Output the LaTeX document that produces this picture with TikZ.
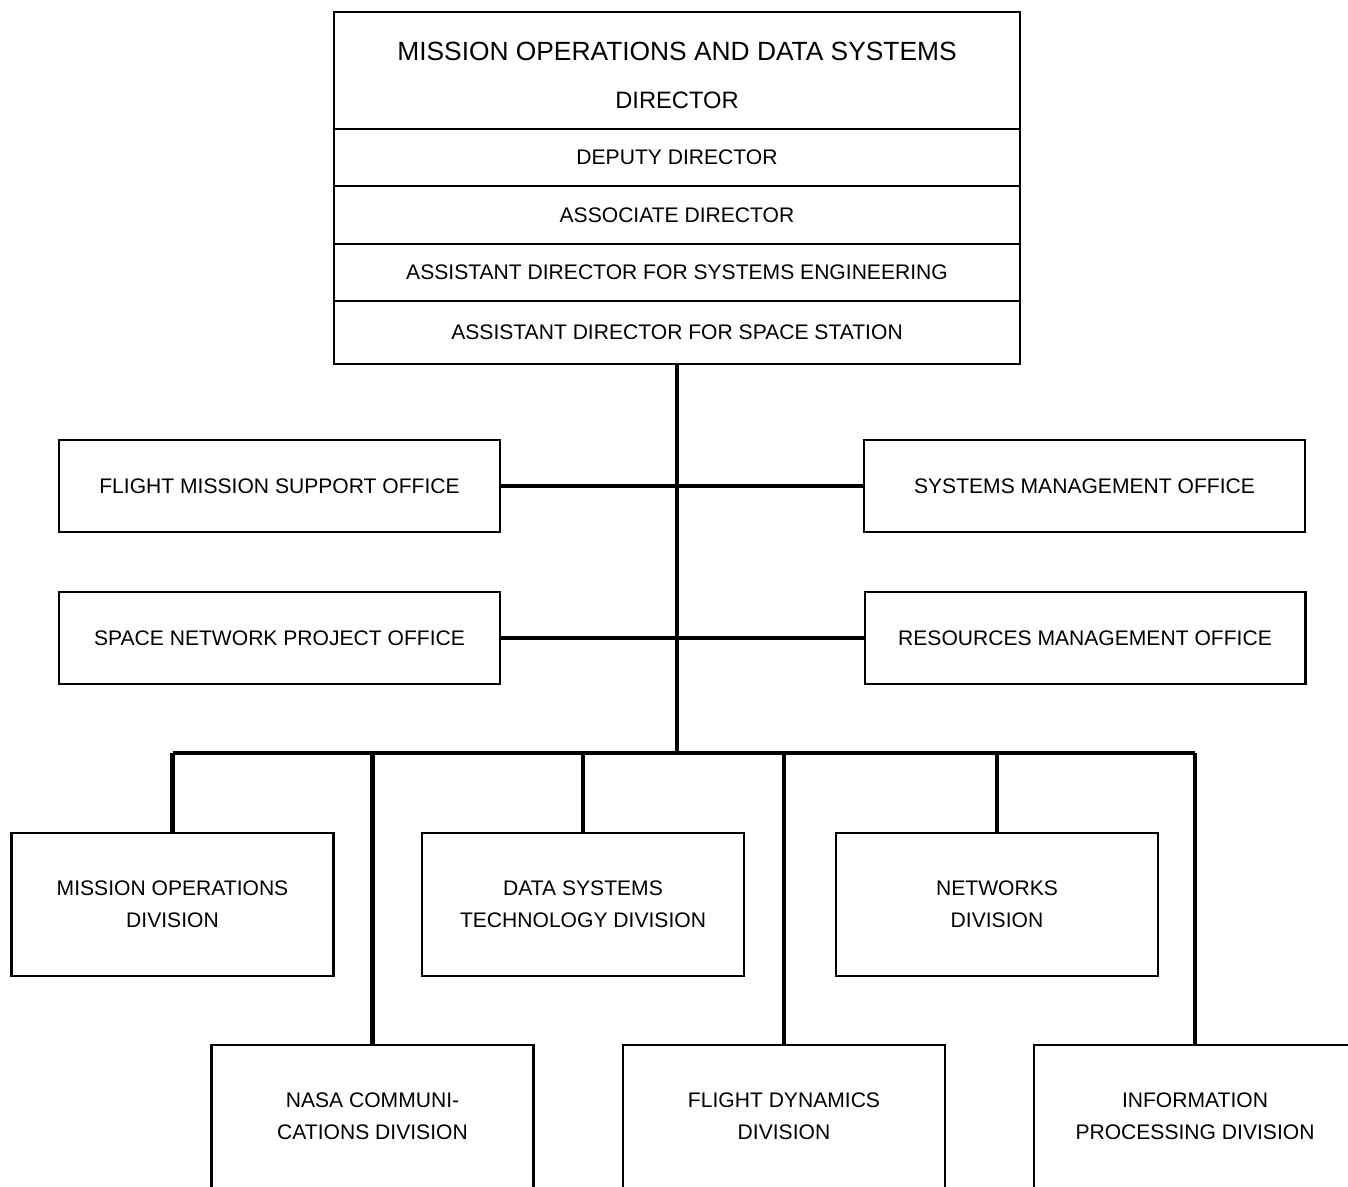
\documentclass[tikz,border=0pt]{standalone}
\usepackage{fontspec}
\setmainfont{Liberation Sans}
\usetikzlibrary{positioning}

\begin{document}
\begin{tikzpicture}[
    x=0.02cm, y=-0.02cm,
    box/.style={
        draw,
        rectangle,
        line width=1.2pt,
        outer sep=0pt,
        inner sep=0pt,
        align=center,
        font=\fontsize{12}{18}\selectfont
    },
    head/.style={
        box,
        minimum width=13.72cm,
        minimum height=1.14cm
    },
    office/.style={
        box,
        minimum width=8.82cm,
        minimum height=1.84cm
    },
    division/.style={
        box,
        minimum width=6.44cm,
        minimum height=2.86cm
    },
    link/.style={
        line width=2.3pt
    }
]

\clip (0,0) rectangle (1348,1186);

% Director's box
\node[head, minimum height=2.34cm, font=\fontsize{15}{18}\selectfont] (director) at (677,70.5)
    {\rule{0pt}{16pt}MISSION OPERATIONS AND DATA SYSTEMS\\[9.5pt]{\fontsize{13.5}{16}\selectfont DIRECTOR}};
\node[head, below=0pt of director] (deputy) {DEPUTY DIRECTOR};
\node[head, below=0pt of deputy, minimum height=1.16cm] (associate) {ASSOCIATE DIRECTOR};
\node[head, below=0pt of associate] (syseng) {ASSISTANT DIRECTOR FOR SYSTEMS ENGINEERING};
\node[head, below=0pt of syseng, minimum height=1.26cm] (station) {ASSISTANT DIRECTOR FOR SPACE STATION};

% Offices
\node[office] (fmso) at (279.5,486) {FLIGHT MISSION SUPPORT OFFICE};
\node[office] (smo) at (1084.5,486) {SYSTEMS MANAGEMENT OFFICE};
\node[office] (snpo) at (279.5,638) {SPACE NETWORK PROJECT OFFICE};
\node[office] (rmo) at (1085,638) {RESOURCES MANAGEMENT OFFICE};

% Divisions
\node[division] (mod) at (172.5,904.5) {MISSION OPERATIONS\\DIVISION};
\node[division] (dstd) at (583,904.5) {DATA SYSTEMS\\TECHNOLOGY DIVISION};
\node[division] (nd) at (997,904.5) {NETWORKS\\DIVISION};
\node[division] (ncd) at (372.5,1116.5) {NASA COMMUNI-\\CATIONS DIVISION};
\node[division] (fdd) at (784,1116.5) {FLIGHT DYNAMICS\\DIVISION};
\node[division] (ipd) at (1195,1116.5) {INFORMATION\\PROCESSING DIVISION};

\coordinate (bus) at (677,753);

% Connections
\draw[link] (station.south) -- (bus);
\draw[link] (fmso.east) -- (smo.west);
\draw[link] (snpo.east) -- (rmo.west);
\draw[link] (mod.north |- bus) -- (ipd.north |- bus);
\foreach \d in {mod, ncd, dstd, fdd, nd, ipd}
    \draw[link] (\d.north) -- (\d.north |- bus);

\end{tikzpicture}
\end{document}
